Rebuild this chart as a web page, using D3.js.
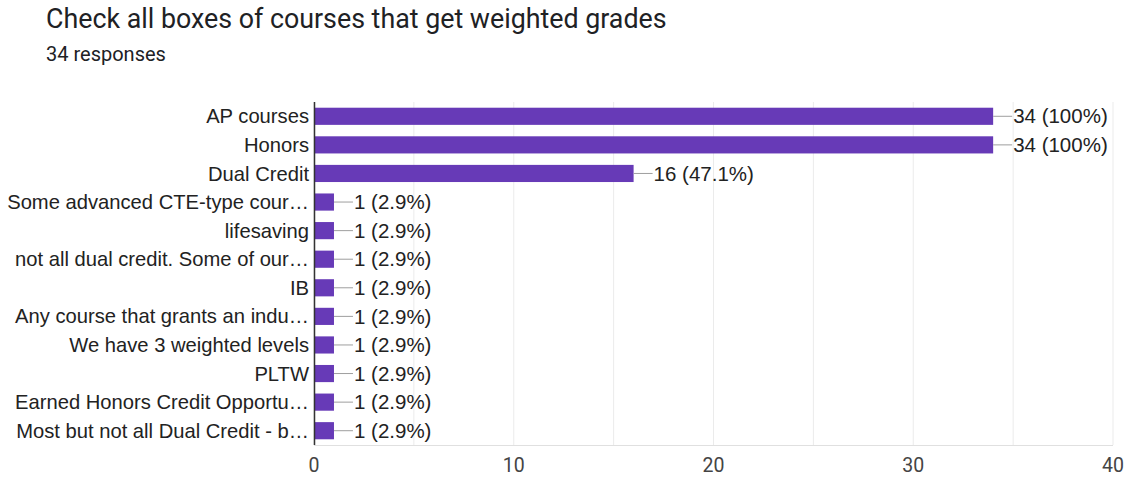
<!DOCTYPE html>
<html><head><meta charset="utf-8">
<script src="https://cdn.jsdelivr.net/npm/d3@7"></script>
<style>body{margin:0;background:#fff;} svg{display:block;}</style>
</head><body>
<svg id="c" width="1128" height="477"></svg>
<script>
const categories = ["AP courses","Honors","Dual Credit","Some advanced CTE-type cour\u2026","lifesaving","not all dual credit. Some of our\u2026","IB","Any course that grants an indu\u2026","We have 3 weighted levels","PLTW","Earned Honors Credit Opportu\u2026","Most but not all Dual Credit - b\u2026"];
const counts = [34,34,16,1,1,1,1,1,1,1,1,1];
const percents = ["100%","100%","47.1%","2.9%","2.9%","2.9%","2.9%","2.9%","2.9%","2.9%","2.9%","2.9%"];
const ticks = [0,10,20,30,40];
const gridTicks = [0,5,10,15,20,25,30,35,40];

(function(){
const svg = d3.select("#c");
const pL = 314, pR = 1113, pT = 102, pB = 445;
const x = d3.scaleLinear().domain([0,40]).range([pL,pR]);
const y = d3.scaleBand().domain(categories).range([pT,pB]).paddingInner(0.4).paddingOuter(0.2);

svg.append("text").attr("x",46).attr("y",28).attr("font-family","Roboto").attr("font-size",26.8).attr("fill","#202124").text("Check all boxes of courses that get weighted grades");
svg.append("text").attr("x",46).attr("y",61).attr("font-family","Roboto").attr("font-size",20).attr("fill","#202124").text("34 responses");

svg.append("g").selectAll("line").data(gridTicks).join("line")
  .attr("x1",d=>x(d)).attr("x2",d=>x(d)).attr("y1",pT).attr("y2",pB)
  .attr("stroke","#ebebeb").attr("stroke-width",1);
svg.append("line").attr("x1",pL).attr("x2",pR).attr("y1",pB+0.5).attr("y2",pB+0.5).attr("stroke","#e0e0e0");

svg.append("g").selectAll("rect").data(categories).join("rect")
  .attr("x",x(0)).attr("y",d=>y(d)).attr("width",(d,i)=>x(counts[i])-x(0)).attr("height",y.bandwidth())
  .attr("fill","#673ab7");

svg.append("line").attr("x1",pL+0.5).attr("x2",pL+0.5).attr("y1",pT).attr("y2",pB).attr("stroke","#333").attr("stroke-width",1.5);

svg.append("g").selectAll("line").data(categories).join("line")
  .attr("x1",(d,i)=>x(counts[i])).attr("x2",(d,i)=>x(counts[i])+19)
  .attr("y1",d=>y(d)+y.bandwidth()/2).attr("y2",d=>y(d)+y.bandwidth()/2)
  .attr("stroke","#9e9e9e").attr("stroke-width",1);

svg.append("g").selectAll("text").data(categories).join("text")
  .attr("x",(d,i)=>x(counts[i])+20).attr("y",d=>y(d)+y.bandwidth()/2).attr("dy","0.35em")
  .attr("font-family","Liberation Sans, Arial").attr("font-size",20.5).attr("fill","#222")
  .text((d,i)=>counts[i]+" ("+percents[i]+")");

svg.append("g").selectAll("text").data(categories).join("text")
  .attr("x",pL-5).attr("y",d=>y(d)+y.bandwidth()/2).attr("dy","0.35em").attr("text-anchor","end")
  .attr("font-family","Liberation Sans, Arial").attr("font-size",20.2).attr("fill","#222")
  .text(d=>d);

svg.append("g").selectAll("text").data(ticks).join("text")
  .attr("x",d=>x(d)).attr("y",472).attr("text-anchor","middle")
  .attr("font-family","Roboto").attr("font-size",19.5).attr("fill","#444")
  .text(d=>d);
})();
</script>
</body></html>
